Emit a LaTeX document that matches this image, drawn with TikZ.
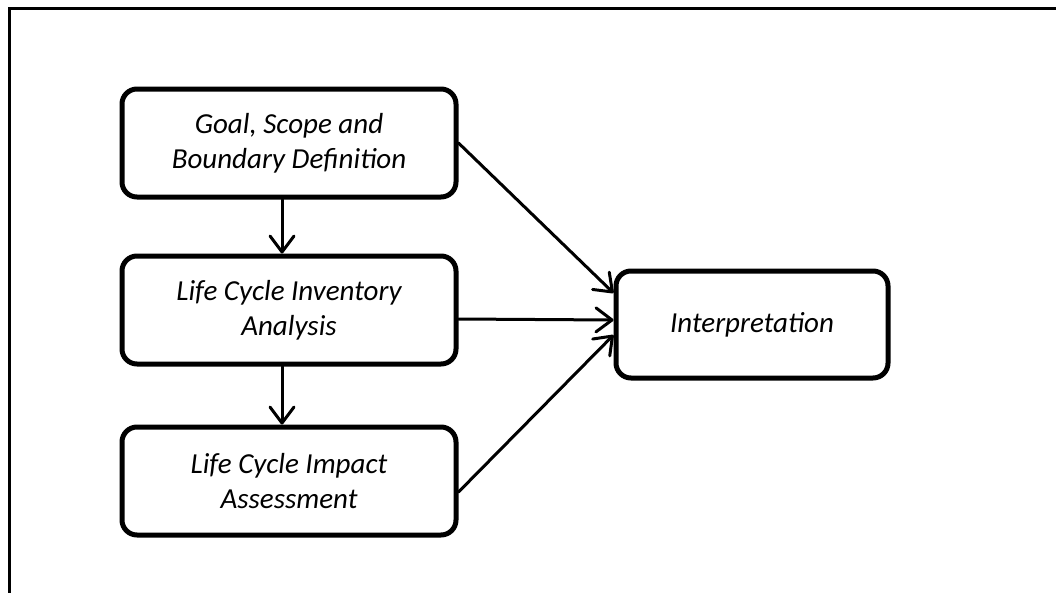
\documentclass[tikz,border=0pt]{standalone}
\usepackage{fontspec}
\setmainfont{Carlito}
\usetikzlibrary{arrows.meta}
\tikzset{
  stage/.style={draw, line width=5pt, rounded corners=15pt, align=center,
    font=\fontsize{29}{35}\selectfont\itshape, inner sep=0pt},
  flow/.style={line width=3pt, line cap=round,
    -{Straight Barb[length=16pt,width=24pt,round]}},
  frame/.style={line width=3pt}
}
\begin{document}
\begin{tikzpicture}[x=1pt,y=-1pt]
\useasboundingbox (0,0) rectangle (1056,592);
\coordinate (fc) at (9,8);
\coordinate (fr) at (1060,8);
\coordinate (fb) at (9,596);
\draw[frame] (fr) -- (fc) -- (fb);
\node[stage, minimum width=334pt, minimum height=108pt] (b1) at (289,143) {Goal, Scope and\\Boundary Definition};
\node[stage, minimum width=334pt, minimum height=108pt] (b2) at (289,310) {Life Cycle Inventory\\Analysis};
\node[stage, minimum width=334pt, minimum height=108pt] (b3) at (289,481) {Life Cycle Impact\\Assessment};
\node[stage, minimum width=272pt, minimum height=107pt] (int) at (752,324.5) {Interpretation};
\draw[flow] ([xshift=-7pt]b1.south) -- ([xshift=-7pt]b2.north);
\draw[flow] ([xshift=-7pt]b2.south) -- ([xshift=-7pt]b3.north);
\draw[flow] (b1.east) -- ([yshift=31.5pt]int.west);
\draw[flow] ([yshift=-9pt]b2.east) -- ([yshift=4.5pt]int.west);
\draw[flow] ([yshift=-11pt]b3.east) -- ([yshift=-10.5pt]int.west);
\end{tikzpicture}
\end{document}
